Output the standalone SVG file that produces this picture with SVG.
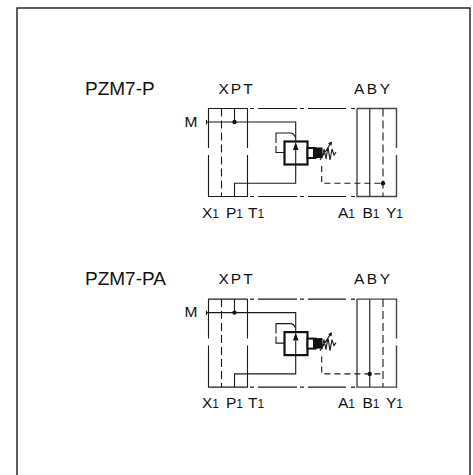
<svg xmlns="http://www.w3.org/2000/svg" width="473" height="475" viewBox="0 0 473 475">
<style>
text{font-family:"Liberation Sans",Arial,sans-serif;fill:#111}
.t{font-size:19px}.l{font-size:15.500px}.s{font-size:12px}
.ln{fill:none;stroke:#1a1a1a;stroke-width:1.100}
.g{fill:none;stroke:#444;stroke-width:1.400}
.d{fill:none;stroke:#1a1a1a;stroke-width:1.100;stroke-dasharray:8 4}
.v{fill:#fff;stroke:#111;stroke-width:2.200}
</style>
<defs>
<g id="sym">
<path class="ln" d="M247.500 108.500H208.500V148M208.500 155V196.500H247.500V155M247.500 148V108.500"/>
<path class="ln" d="M250 108.500H254M258 108.500H297M300 108.500H304M308 108.500H346M351 108.500H355M250 196.500H254M258 196.500H297M300 196.500H304M308 196.500H346M351 196.500H355"/>
<path class="g" d="M357 108.500H396.500V148M396.500 155V196.500H357V108.500M369.700 108.500V196.500"/>
<path class="d" d="M221.500 108.500V196.500M383 108.500V196.500"/>
<path class="ln" d="M206 122H295.700V183.300H234.500V196.500M234.500 108.500V122M206.500 120V124.500"/>
<circle cx="234.500" cy="122" r="2.200" fill="#111"/>
<path class="ln" d="M290 133H276V143M276 146V152.500H284M290 133Q294 133 295 137"/>
<rect class="v" x="284.500" y="141.500" width="23" height="23"/>
<path fill="#111" d="M295.700 142L298.500 150H293Z"/>
<path class="ln" d="M295.700 150V164"/>
<rect x="307.500" y="148" width="8" height="10" fill="#fff" stroke="#111" stroke-width="2"/>
<rect x="313" y="147.500" width="9.500" height="10.500" fill="#111"/>
<path class="ln" d="M322 158L324 149L326 159L328 147L330 160L332 149L334 155L336 152M320 160L331.500 142M331.500 142L328.500 144M331.500 142L331 145.500"/>
<path class="d" style="stroke-dasharray:6 4" d="M321.700 166V183.300H383"/>
</g>
</defs>
<rect id="frame" x="17" y="8" width="453" height="470" fill="#fff" stroke="#1a1a1a" stroke-width="1.400"/>
<g id="connectors"></g>
<g id="pzm7-p">
<use href="#sym"/>
<circle cx="383" cy="183.300" r="2.200" fill="#111"/>
<text class="t" x="85" y="95">PZM7-P</text>
<text class="l" x="218.500" y="94" letter-spacing="2">XPT</text>
<text class="l" x="354" y="94" letter-spacing="2.500">ABY</text>
<text class="l" x="184.500" y="127">M</text>
<text class="l" x="202" y="218">X<tspan class="s">1</tspan></text>
<text class="l" x="226" y="218">P<tspan class="s">1</tspan></text>
<text class="l" x="248" y="218">T<tspan class="s">1</tspan></text>
<text class="l" x="338" y="218">A<tspan class="s">1</tspan></text>
<text class="l" x="362.500" y="218">B<tspan class="s">1</tspan></text>
<text class="l" x="386" y="218">Y<tspan class="s">1</tspan></text>
</g>
<g id="pzm7-pa">
<use href="#sym" y="190.600"/>
<circle cx="369.700" cy="373.900" r="2.200" fill="#111"/>
<text class="t" x="85" y="285">PZM7-PA</text>
<text class="l" x="218.500" y="284" letter-spacing="2">XPT</text>
<text class="l" x="354" y="284" letter-spacing="2.500">ABY</text>
<text class="l" x="184.500" y="317">M</text>
<text class="l" x="202" y="408">X<tspan class="s">1</tspan></text>
<text class="l" x="226" y="408">P<tspan class="s">1</tspan></text>
<text class="l" x="248" y="408">T<tspan class="s">1</tspan></text>
<text class="l" x="338" y="408">A<tspan class="s">1</tspan></text>
<text class="l" x="362.500" y="408">B<tspan class="s">1</tspan></text>
<text class="l" x="386" y="408">Y<tspan class="s">1</tspan></text>
</g>
</svg>
